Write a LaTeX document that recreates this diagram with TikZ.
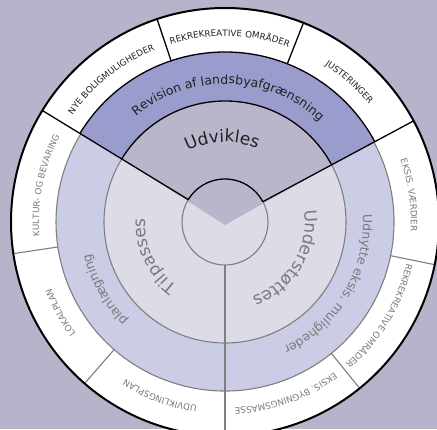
\documentclass[tikz,border=0pt]{standalone}
\usepackage{fontspec}
\setmainfont{DejaVu Sans}
\usetikzlibrary{decorations.text}

\definecolor{bgcol}{HTML}{B6B4CA}
\definecolor{revband}{HTML}{999CCC}
\definecolor{paleband}{HTML}{CBCCE6}
\definecolor{innerpale}{HTML}{DCDBE6}
\definecolor{innertop}{HTML}{B9B6CC}
\definecolor{greyline}{HTML}{7F7F7F}
\definecolor{greytext}{HTML}{7A7A7A}
\definecolor{darktext}{HTML}{222222}

\tikzstyle{hardline}=[draw=black, line width=1.3pt]
\tikzstyle{paleline}=[draw=greyline, line width=1.1pt]
\tikzstyle{rimline}=[draw=black, line width=2pt]
\tikzstyle{ringtext}=[decorate, decoration={text along path, text align=center}]
\tikzstyle{toptext}=[ringtext, decoration={text color=darktext}]
\tikzstyle{lowtext}=[ringtext, decoration={text color=greytext}]

\newcommand{\rimfont}{\fontsize{8.8}{8.8}\selectfont}
\newcommand{\bandfont}{\fontsize{12.5}{12.5}\selectfont}
\newcommand{\corefont}{\fontsize{17}{17}\selectfont}

\begin{document}
\begin{tikzpicture}[x=1pt, y=1pt]
  \useasboundingbox (0,0) rectangle (437,429);
  \clip (0,0) rectangle (437,429);
  \fill[bgcol] (0,0) rectangle (437,429);
  \begin{scope}[shift={(225,207)}]
    % rings
    \fill[white] (0,0) circle[radius=214];
    \fill[paleband] (0,0) circle[radius=169];
    \fill[revband] (0,0) -- (148.6:170) arc[start angle=148.6, end angle=28.2, radius=170] -- cycle;
    \fill[innerpale] (0,0) circle[radius=121];
    \fill[innertop] (0,-3) -- (148.6:121) arc[start angle=148.6, end angle=28.2, radius=121] -- cycle;

    % grey outlines
    \draw[paleline] (28.2:169) arc[start angle=28.2, end angle=-211.4, radius=169];
    \draw[paleline] (28.2:121) arc[start angle=28.2, end angle=-211.4, radius=121];
    \draw[paleline] (28.2:43) arc[start angle=28.2, end angle=-211.4, radius=43];
    \draw[paleline] (270:43) -- (270:214);
    \draw[paleline] (188.5:169) -- (188.5:214);
    \draw[paleline] (229:169) -- (229:214);
    \draw[paleline] (309:169) -- (309:214);
    \draw[paleline] (348.5:169) -- (348.5:214);

    % black outlines
    \draw[hardline] (148.6:170) arc[start angle=148.6, end angle=28.2, radius=170];
    \draw[hardline] (148.6:121) arc[start angle=148.6, end angle=28.2, radius=121];
    \draw[hardline] (148.6:43) arc[start angle=148.6, end angle=28.2, radius=43];
    \draw[hardline] (148.6:43) -- (148.6:214);
    \draw[hardline] (28.2:43) -- (28.2:214);
    \draw[hardline] (108.5:170) -- (108.5:214);
    \draw[hardline] (68.5:170) -- (68.5:214);
    \draw[rimline] (0,0) circle[radius=214];

    % outer ring labels
    \path[toptext, decoration={text={|\rimfont|NYE BOLIGMULIGHEDER}}] (148.6:186) arc[start angle=148.6, end angle=108.5, radius=186];
    \path[toptext, decoration={text={|\rimfont|REKREKREATIVE OMRÅDER}}] (108.5:186) arc[start angle=108.5, end angle=68.5, radius=186];
    \path[toptext, decoration={text={|\rimfont|JUSTERINGER}}] (68.5:186) arc[start angle=68.5, end angle=28.2, radius=186];
    \path[lowtext, decoration={text={|\rimfont|EKSIS. VÆRDIER}}] (28.2:186) arc[start angle=28.2, end angle=-11.5, radius=186];
    \path[lowtext, decoration={text={|\rimfont|REKREKREATIVE OMRÅDER}}] (-11.5:186) arc[start angle=-11.5, end angle=-51, radius=186];
    \path[lowtext, decoration={text={|\rimfont|EKSIS. BYGNINGSMASSE}}] (-51:186) arc[start angle=-51, end angle=-90, radius=186];
    \path[lowtext, decoration={text={|\rimfont|UDVIKLINGSPLAN}}] (270:186) arc[start angle=270, end angle=229, radius=186];
    \path[lowtext, decoration={text={|\rimfont|LOKALPLAN}}] (229:186) arc[start angle=229, end angle=188.5, radius=186];
    \path[lowtext, decoration={text={|\rimfont|KULTUR- OG BEVARING}}] (188.5:186) arc[start angle=188.5, end angle=148.6, radius=186];

    % middle ring labels
    \path[toptext, decoration={text={|\bandfont|Revision af landsbyafgrænsning}}] (148.6:138) arc[start angle=148.6, end angle=28.2, radius=138];
    \path[lowtext, decoration={text={|\bandfont|Udnytte eksis. muligheder}}] (28.2:138) arc[start angle=28.2, end angle=-90, radius=138];
    \path[lowtext, decoration={text={|\bandfont|planlægning}}] (270:138) arc[start angle=270, end angle=148.6, radius=138];

    % inner labels
    \path[toptext, decoration={text={|\corefont|Udvikles}}] (152:80) arc[start angle=152, end angle=32, radius=80];
    \path[lowtext, decoration={text={|\corefont|Understøttes}}] (28.2:80) arc[start angle=28.2, end angle=-90, radius=80];
    \path[lowtext, decoration={text={|\corefont|Tilpasses}}] (262:80) arc[start angle=262, end angle=149, radius=80];
  \end{scope}
\end{tikzpicture}
\end{document}
